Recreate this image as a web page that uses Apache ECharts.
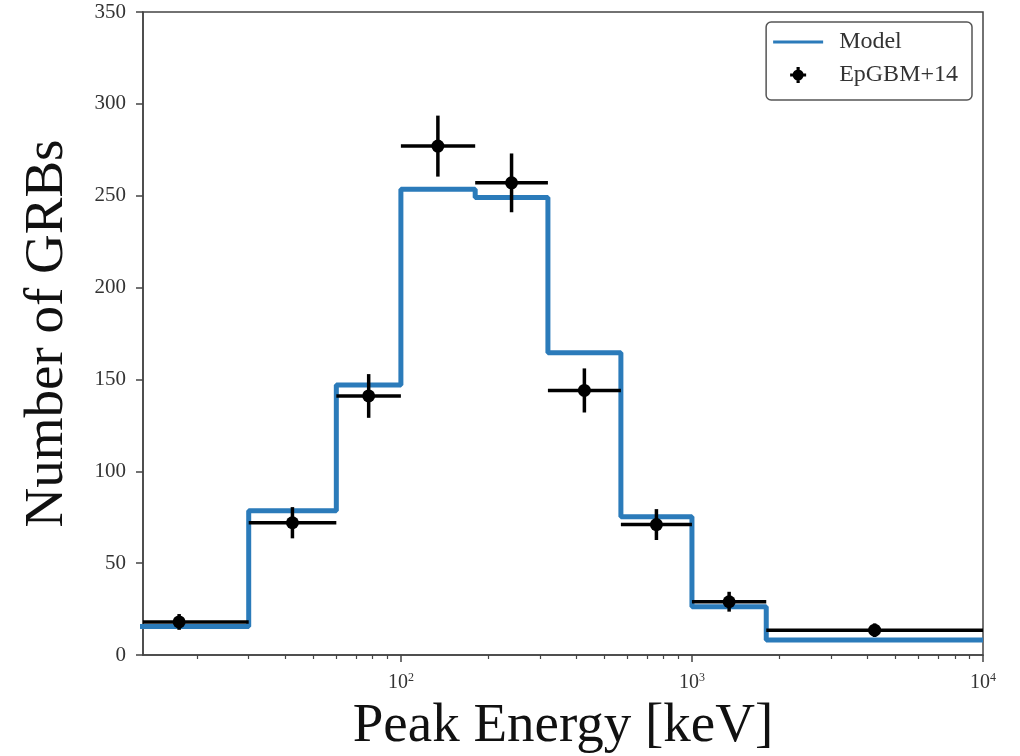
<!DOCTYPE html>
<html>
<head>
<meta charset="utf-8">
<script src="https://cdn.jsdelivr.net/npm/echarts@6/dist/echarts.min.js"></script>
<style>html,body{margin:0;padding:0;background:#fff}#chart{width:1020px;height:756px}</style>
</head>
<body>
<div id="chart"></div>
<script>
// ---- data ----
const binEdges = [10, 30, 60, 100, 180, 320, 570, 1000, 1800, 10000];      // keV
const binCenters = [17.3, 42.4, 77.5, 134, 240, 427, 755, 1342, 4243];     // keV
const observedCounts = [18, 72, 141, 277, 257, 144, 71, 29, 13.5];          // EpGBM+14
const observedErrors = [4.3, 8.5, 11.9, 16.6, 16.0, 12.0, 8.4, 5.4, 3.7];
const modelCounts = [15.5, 78.5, 147, 253.5, 249, 164.5, 75.3, 26.3, 8.2];  // Model
const yTicks = [0, 50, 100, 150, 200, 250, 300, 350];
const xMajorTicks = [100, 1000, 10000];
const xMajorExponents = ['2', '3', '4'];
const xMinorTicks = [20, 30, 40, 50, 60, 70, 80, 90, 200, 300, 400, 500, 600, 700, 800, 900,
                     2000, 3000, 4000, 5000, 6000, 7000, 8000, 9000];

// ---- build series data ----
const stepData = modelCounts.map((v, i) => [binEdges[i], v]);
stepData.push([binEdges[binEdges.length - 1], modelCounts[modelCounts.length - 1]]);
const obsData = observedCounts.map((v, i) => [binCenters[i], v, observedErrors[i], binEdges[i], binEdges[i + 1]]);

const FONT = 'Liberation Serif';
const crossIcon = 'path://M0 6.4H16V9.6H0Z M6.4 0H9.6V16H6.4Z M2.5 8A5.5 5.5 0 1 1 13.5 8A5.5 5.5 0 1 1 2.5 8Z';
const lineIcon = 'path://M0 0H50V3H0Z';

const chart = echarts.init(document.getElementById('chart'), null, {renderer: 'canvas'});
chart.setOption({
  animation: false,
  backgroundColor: '#fff',
  grid: {
    left: 143, right: 37, top: 12, bottom: 101,
    outerBoundsMode: 'none', containLabel: false,
    show: true, borderColor: '#444', borderWidth: 1.5, backgroundColor: 'transparent'
  },
  legend: {
    orient: 'vertical', right: 48, top: 22,
    data: [
      {name: 'Model', icon: lineIcon, symbolKeepAspect: true, itemStyle: {color: '#2b7bba'}},
      {name: 'EpGBM+14', icon: crossIcon, symbolKeepAspect: true}
    ],
    itemWidth: 50, itemHeight: 16, itemGap: 9,
    padding: [8, 14, 13, 7],
    backgroundColor: '#fff', borderColor: '#555', borderWidth: 1.5, borderRadius: 5,
    textStyle: {fontFamily: FONT, fontSize: 24, color: '#333', padding: [0, 0, 0, 11]}
  },
  xAxis: [
    {
      type: 'log', logBase: 10, min: 13, max: 10000, position: 'bottom',
      name: 'Peak Energy [keV]', nameLocation: 'middle', nameGap: 44,
      nameTextStyle: {fontFamily: FONT, fontSize: 55, color: '#111'},
      axisLine: {show: true, lineStyle: {color: '#444', width: 1.5}},
      axisTick: {show: true, inside: false, length: 7, customValues: xMajorTicks, lineStyle: {color: '#444', width: 1.5}},
      axisLabel: {
        show: true, customValues: xMajorTicks, margin: 17,
        formatter: function (v) {
          const i = xMajorTicks.indexOf(v);
          return '{b|10}{s|' + (i >= 0 ? xMajorExponents[i] : '') + '}';
        },
        rich: {
          b: {fontFamily: FONT, fontSize: 20, color: '#333'},
          s: {fontFamily: FONT, fontSize: 12, color: '#333', padding: [0, 0, 10, 0]}
        }
      },
      splitLine: {show: false}
    },
    {
      type: 'log', logBase: 10, min: 13, max: 10000, position: 'bottom', offset: 0,
      axisLine: {show: false},
      axisTick: {show: true, inside: false, length: 4, customValues: xMinorTicks, lineStyle: {color: '#444', width: 1.2}},
      axisLabel: {show: false},
      splitLine: {show: false}
    }
  ],
  yAxis: {
    type: 'value', min: 0, max: 350, interval: 50,
    name: 'Number of GRBs', nameLocation: 'middle', nameGap: 68,
    nameTextStyle: {fontFamily: FONT, fontSize: 55, color: '#111'},
    axisLine: {show: true, lineStyle: {color: '#444', width: 1.5}},
    axisTick: {show: true, inside: false, length: 7, lineStyle: {color: '#444', width: 1.5}},
    axisLabel: {
      fontFamily: FONT, fontSize: 21, color: '#333', margin: 17,
      customValues: yTicks
    },
    splitLine: {show: false}
  },
  series: [
    {
      name: 'Model', type: 'line', xAxisIndex: 0, step: 'end', symbol: 'none', clip: true,
      data: stepData,
      lineStyle: {color: '#2b7bba', width: 5},
      itemStyle: {color: '#2b7bba'},
      z: 2
    },
    {
      name: 'EpGBM+14', type: 'custom', xAxisIndex: 0,
      itemStyle: {color: '#000'},
      encode: {x: 0, y: 1},
      data: obsData,
      z: 3,
      renderItem: function (params, api) {
        const cs = params.coordSys;
        const x = api.value(0), y = api.value(1), e = api.value(2);
        const c = api.coord([x, y]);
        const l = api.coord([api.value(3), y]);
        const r = api.coord([api.value(4), y]);
        const t = api.coord([x, y + e]);
        const b = api.coord([x, y - e]);
        const x1 = Math.max(l[0], cs.x), x2 = Math.min(r[0], cs.x + cs.width);
        return {
          type: 'group',
          children: [
            {type: 'line', shape: {x1: x1, y1: c[1], x2: x2, y2: c[1]}, style: {stroke: '#000', lineWidth: 3.5}},
            {type: 'line', shape: {x1: c[0], y1: t[1], x2: c[0], y2: b[1]}, style: {stroke: '#000', lineWidth: 3.5}},
            {type: 'circle', shape: {cx: c[0], cy: c[1], r: 6.5}, style: {fill: '#000'}}
          ]
        };
      }
    }
  ]
});
</script>
</body>
</html>
